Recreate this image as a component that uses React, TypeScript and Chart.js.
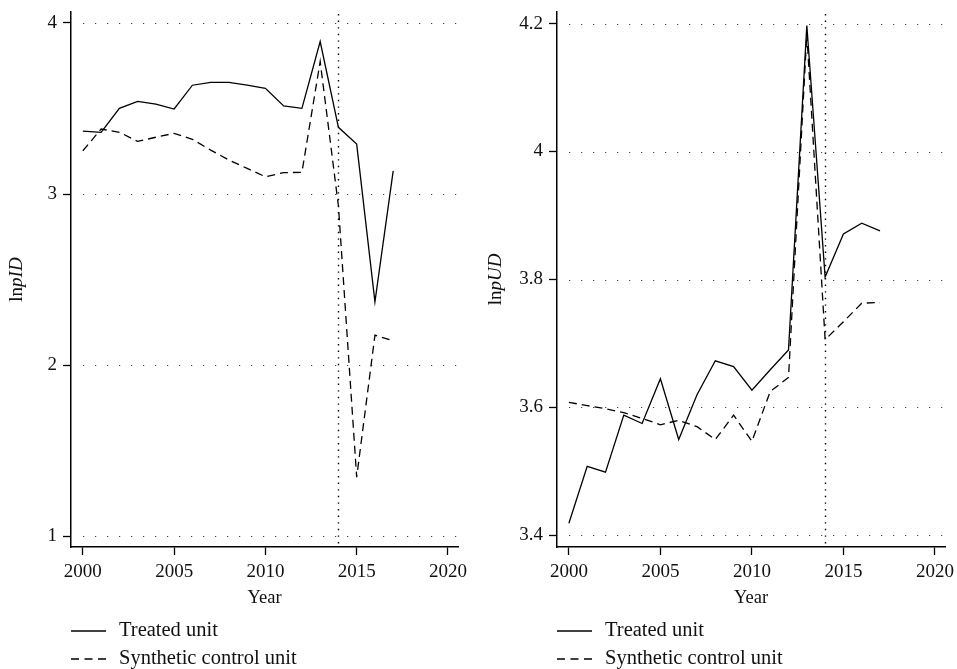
import React, { useEffect, useRef } from 'react';
import { Chart, registerables } from 'chart.js';

Chart.register(...registerables);

// ---- data ----
const years = [2000, 2001, 2002, 2003, 2004, 2005, 2006, 2007, 2008, 2009, 2010, 2011, 2012, 2013, 2014, 2015, 2016, 2017];

const pidTreated = [3.368, 3.361, 3.501, 3.542, 3.526, 3.497, 3.636, 3.653, 3.653, 3.636, 3.618, 3.515, 3.501, 3.891, 3.39, 3.292, 2.37, 3.135];
const pidSynthetic = [3.253, 3.38, 3.361, 3.308, 3.332, 3.355, 3.32, 3.257, 3.199, 3.15, 3.101, 3.125, 3.127, 3.774, 2.93, 1.345, 2.175, 2.142];

const pudTreated = [3.419, 3.508, 3.499, 3.588, 3.575, 3.645, 3.55, 3.62, 3.673, 3.664, 3.627, 3.659, 3.69, 4.197, 3.804, 3.871, 3.888, 3.876];
const pudSynthetic = [3.608, 3.603, 3.598, 3.592, 3.583, 3.573, 3.58, 3.57, 3.55, 3.588, 3.547, 3.625, 3.647, 4.184, 3.706, 3.734, 3.763, 3.764];

const pidTicks = [1, 2, 3, 4];
const pudTicks = [3.4, 3.6, 3.8, 4.0, 4.2];
const yearTicks = [2000, 2005, 2010, 2015, 2020];
const treatmentYear = 2014;
const legendLabels = ['Treated unit', 'Synthetic control unit'];
const xTitle = 'Year';

const FONT = '"Liberation Serif", "DejaVu Serif", serif';
const TXT = '#111';

type PanelProps = {
  treated: number[];
  synthetic: number[];
  yTicks: number[];
  yMin: number;
  yMax: number;
  titleItalic: string;
  leftWidth: number;
  rightPad: number;
};

function Panel(p: PanelProps) {
  const ref = useRef<HTMLCanvasElement | null>(null);

  useEffect(() => {
    const canvas = ref.current;
    if (!canvas) return;

    const overlay = {
      id: 'overlay',
      beforeDatasetsDraw(chart: any) {
        const ctx = chart.ctx;
        const { left, right, top, bottom } = chart.chartArea;
        const ys = chart.scales.y;
        ctx.save();
        // dotted horizontal grid lines
        ctx.strokeStyle = '#444';
        ctx.lineWidth = 1.2;
        ctx.setLineDash([1.2, 10.8]);
        p.yTicks.forEach((v) => {
          const y = Math.round(ys.getPixelForValue(v)) + 0.5;
          ctx.beginPath();
          ctx.moveTo(left + 12, y);
          ctx.lineTo(right, y);
          ctx.stroke();
        });
        // vertical treatment line
        const x = Math.round(chart.scales.x.getPixelForValue(treatmentYear)) + 0.5;
        ctx.strokeStyle = '#000';
        ctx.lineWidth = 1.4;
        ctx.setLineDash([1.4, 5.2]);
        ctx.beginPath();
        ctx.moveTo(x, top + 2);
        ctx.lineTo(x, bottom);
        ctx.stroke();
        ctx.restore();
      },
      afterDraw(chart: any) {
        const ctx = chart.ctx;
        const { left, top, bottom } = chart.chartArea;
        // y-axis title: "ln" + italic part
        ctx.save();
        const cy = (top + bottom) / 2;
        ctx.translate(17, cy);
        ctx.rotate(-Math.PI / 2);
        ctx.fillStyle = TXT;
        ctx.textBaseline = 'middle';
        ctx.textAlign = 'left';
        const normFont = `19px ${FONT}`;
        const itFont = `italic 19px ${FONT}`;
        ctx.font = normFont;
        const w1 = ctx.measureText('ln').width;
        ctx.font = itFont;
        const w2 = ctx.measureText(p.titleItalic).width;
        const start = -(w1 + w2) / 2;
        ctx.font = normFont;
        ctx.fillText('ln', start, 0);
        ctx.font = itFont;
        ctx.fillText(p.titleItalic, start + w1, 0);
        ctx.restore();

        // legend
        ctx.save();
        const ly = [631, 659];
        legendLabels.forEach((lab, i) => {
          ctx.strokeStyle = '#000';
          ctx.lineWidth = 1.3;
          ctx.setLineDash(i === 0 ? [] : [8, 5.5]);
          ctx.beginPath();
          ctx.moveTo(left, ly[i]);
          ctx.lineTo(left + 35, ly[i]);
          ctx.stroke();
          ctx.setLineDash([]);
          ctx.fillStyle = TXT;
          ctx.font = `20.5px ${FONT}`;
          ctx.textBaseline = 'middle';
          ctx.textAlign = 'left';
          ctx.fillText(lab, left + 48, ly[i]);
        });
        ctx.restore();
      },
    };

    const chart = new Chart(canvas, {
      type: 'line',
      data: {
        datasets: [
          {
            label: legendLabels[0],
            data: years.map((x, i) => ({ x, y: p.treated[i] })),
            borderColor: '#000',
            borderWidth: 1.3,
            pointRadius: 0,
            fill: false,
            tension: 0,
          },
          {
            label: legendLabels[1],
            data: years.map((x, i) => ({ x, y: p.synthetic[i] })),
            borderColor: '#000',
            borderWidth: 1.3,
            borderDash: [8, 5],
            pointRadius: 0,
            fill: false,
            tension: 0,
          },
        ],
      },
      options: {
        animation: false,
        responsive: false,
        maintainAspectRatio: false,
        layout: { padding: { top: 12, right: p.rightPad, left: 0, bottom: 0 } },
        plugins: { legend: { display: false }, tooltip: { enabled: false } },
        scales: {
          x: {
            type: 'linear',
            min: 1999.35,
            max: 2020.55,
            afterBuildTicks: (s: any) => {
              s.ticks = yearTicks.map((v) => ({ value: v }));
            },
            afterFit: (s: any) => {
              s.height = 122;
              s.paddingLeft = 0;
              s.paddingRight = 0;
            },
            grid: {
              drawOnChartArea: false,
              drawTicks: true,
              tickLength: 8,
              tickColor: '#000',
              tickWidth: 1.3,
            },
            border: { display: true, color: '#000', width: 1.5 },
            ticks: {
              font: { family: FONT, size: 19 },
              color: TXT,
              padding: 6,
              maxRotation: 0,
              autoSkip: false,
              callback: (v: any) => String(v),
            },
            title: {
              display: true,
              text: xTitle,
              font: { family: FONT, size: 18.5 },
              color: TXT,
              padding: { top: 0, bottom: 60 },
            },
          },
          y: {
            type: 'linear',
            min: p.yMin,
            max: p.yMax,
            afterBuildTicks: (s: any) => {
              s.ticks = p.yTicks.map((v) => ({ value: v }));
            },
            afterFit: (s: any) => {
              s.width = p.leftWidth;
              s.paddingTop = 0;
              s.paddingBottom = 0;
            },
            grid: {
              drawOnChartArea: false,
              drawTicks: true,
              tickColor: '#000',
              tickLength: 8,
              tickWidth: 1.3,
            },
            border: { display: true, color: '#000', width: 1.5 },
            ticks: {
              font: { family: FONT, size: 19 },
              color: TXT,
              padding: 6,
              callback: (v: any) => String(Number(Number(v).toFixed(1))),
            },
          },
        },
      } as any,
      plugins: [overlay],
    } as any);

    return () => chart.destroy();
  }, []);

  return <canvas ref={ref} width={478} height={669} style={{ display: 'block', width: 478, height: 669 }} />;
}

export default function App() {
  useEffect(() => {
    document.body.style.margin = '0';
    document.body.style.background = '#fff';
  }, []);
  return (
    <div style={{ position: 'relative', width: 957, height: 669, background: '#fff' }}>
      <div style={{ position: 'absolute', left: 0, top: 0 }}>
        <Panel treated={pidTreated} synthetic={pidSynthetic} yTicks={pidTicks} yMin={0.937} yMax={4.064} titleItalic="pID" leftWidth={71} rightPad={20} />
      </div>
      <div style={{ position: 'absolute', left: 479, top: 0 }}>
        <Panel treated={pudTreated} synthetic={pudSynthetic} yTicks={pudTicks} yMin={3.382} yMax={4.218} titleItalic="pUD" leftWidth={78} rightPad={12} />
      </div>
    </div>
  );
}
